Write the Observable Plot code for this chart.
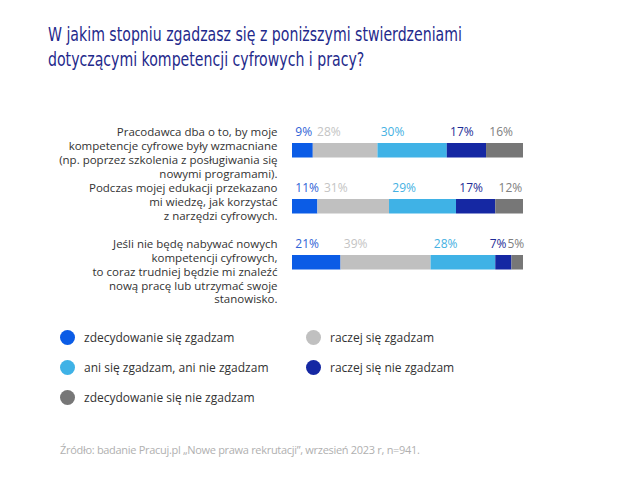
<!DOCTYPE html>
<html>
<head>
<meta charset="utf-8">
<script src="https://cdn.jsdelivr.net/npm/d3@7"></script>
<script src="https://cdn.jsdelivr.net/npm/@observablehq/plot@0.6"></script>
<style>
  html, body { margin: 0; padding: 0; background: #fff; }
  body { width: 640px; height: 481px; position: relative; overflow: hidden; font-family: "Open Sans", sans-serif; }
  #title { position: absolute; left: 48px; top: 23px; font-family: "Liberation Sans Narrow", "DejaVu Sans Condensed", sans-serif; font-size: 19.5px; line-height: 24.5px; color: #1f2a8c; transform: scaleX(0.805); transform-origin: 0 0; white-space: nowrap; }
  #chart { position: absolute; left: 0; top: 100px; }
  #legend { position: absolute; left: 60px; top: 329px; display: grid; grid-template-columns: 246px 240px; row-gap: 14px; }
  .item { display: flex; align-items: center; height: 16px; font-size: 12px; color: #333; }
  .dot { width: 15px; height: 15px; border-radius: 50%; margin-right: 9px; flex: none; }
  #footer { position: absolute; left: 60px; top: 442px; font-size: 11px; color: #b0b0b0; letter-spacing: -0.3px; }
</style>
</head>
<body>
<div id="title">W jakim stopniu zgadzasz się z poniższymi stwierdzeniami<br>dotyczącymi kompetencji cyfrowych i pracy?</div>
<div id="chart"></div>
<div id="legend"></div>
<div id="footer">Źródło: badanie Pracuj.pl „Nowe prawa rekrutacji”, wrzesień 2023 r, n=941.</div>
<script>
const statements = [
  "Pracodawca dba o to, by moje\nkompetencje cyfrowe były wzmacniane\n(np. poprzez szkolenia z posługiwania się\nnowymi programami).",
  "Podczas mojej edukacji przekazano\nmi wiedzę, jak korzystać\nz narzędzi cyfrowych.",
  "Jeśli nie będę nabywać nowych\nkompetencji cyfrowych,\nto coraz trudniej będzie mi znaleźć\nnową pracę lub utrzymać swoje\nstanowisko."
];
const responses = [
  "zdecydowanie się zgadzam",
  "raczej się zgadzam",
  "ani się zgadzam, ani nie zgadzam",
  "raczej się nie zgadzam",
  "zdecydowanie się nie zgadzam"
];
const colors = ["#0b5ce6", "#c0c0c0", "#3fb2e6", "#1528a3", "#777777"];
const labelColors = ["#2f63d6", "#c4c4c4", "#45b1e2", "#1e2c96", "#808080"];
const stronglyAgree    = [9, 11, 21];
const ratherAgree      = [28, 31, 39];
const neutral          = [30, 29, 28];
const ratherDisagree   = [17, 17, 7];
const stronglyDisagree = [16, 12, 5];

const series = [stronglyAgree, ratherAgree, neutral, ratherDisagree, stronglyDisagree];

const width = 640, marginLeft = 292, marginRight = 117;
const unitsPerPx = 100 / (width - marginLeft - marginRight);
const ctx = document.createElement("canvas").getContext("2d");
ctx.font = "12px 'Open Sans'";
const textW = s => ctx.measureText(s).width * unitsPerPx;

// build rows with cumulative starts; keep labels from overlapping
const rows = [];
statements.forEach((s, i) => {
  let acc = 0;
  const r = [];
  series.forEach((vals, j) => {
    const v = vals[i];
    r.push({statement: s, response: responses[j], value: v, x1: acc, x2: acc + v, label: v + "%"});
    acc += v;
  });
  const gap = 5 * unitsPerPx;
  let prevEnd = -Infinity;
  r.forEach(d => {
    d.w = textW(d.label);
    d.lx = Math.max(d.x1 + 1.2, prevEnd + gap);
    prevEnd = d.lx + d.w;
  });
  let bound = 100 + 0.3;
  for (let k = r.length - 1; k >= 0; k--) {
    r[k].lx = Math.min(r[k].lx, bound - r[k].w);
    bound = r[k].lx - 1 * unitsPerPx;
  }
  rows.push(...r);
});

const chart = Plot.plot({
  width,
  height: 210,
  marginLeft,
  marginRight,
  marginTop: 21,
  marginBottom: 19,
  x: {domain: [0, 100], axis: null},
  y: {domain: statements, axis: null, padding: 0},
  color: {domain: responses, range: colors},
  style: {fontFamily: "Open Sans, sans-serif", background: "transparent"},
  marks: [
    Plot.barX(rows, {x1: "x1", x2: "x2", y: "statement", fill: "response", insetTop: 21, insetBottom: 20.5}),
    Plot.text(rows, {x: "lx", y: "statement", text: "label", textAnchor: "start", dy: -18,
      fill: d => labelColors[responses.indexOf(d.response)], fontSize: 12}),
    Plot.text(statements, {x: () => 0, y: d => d, text: d => d, textAnchor: "end", lineAnchor: "top",
      dx: -15, dy: -24, lineHeight: 1.2, fontSize: 11.5, fill: "#333"})
  ]
});
document.getElementById("chart").appendChild(chart);

const legend = document.getElementById("legend");
responses.forEach((name, j) => {
  const it = document.createElement("div");
  it.className = "item";
  const dot = document.createElement("span");
  dot.className = "dot";
  dot.style.background = colors[j];
  it.appendChild(dot);
  it.appendChild(document.createTextNode(name));
  legend.appendChild(it);
});
</script>
</body>
</html>
